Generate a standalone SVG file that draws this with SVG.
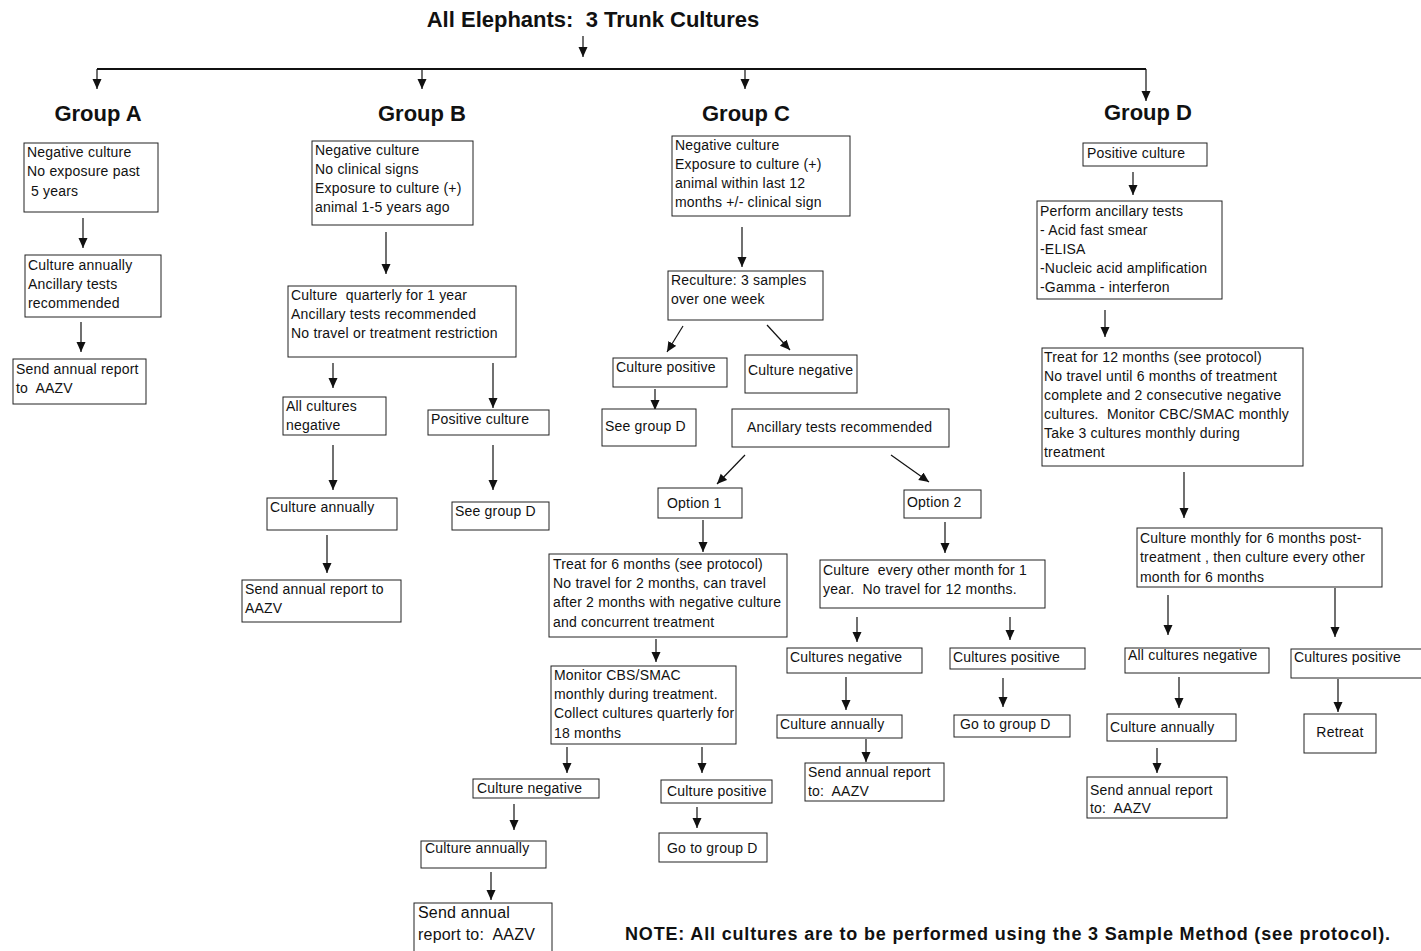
<svg xmlns="http://www.w3.org/2000/svg" width="1421" height="951" viewBox="0 0 1421 951">
<defs>
<marker id="ah" markerUnits="userSpaceOnUse" markerWidth="10" markerHeight="10" refX="10" refY="4.5" orient="auto">
<path d="M0,0 L10,4.5 L0,9 z" fill="#111"/>
</marker>
<style>
.box{fill:#fff;stroke:#222;stroke-width:1}
.t{font-family:"Liberation Sans",Arial,sans-serif;font-size:14px;letter-spacing:0.2px;fill:#111}
.h{font-family:"Liberation Sans",Arial,sans-serif;font-size:22px;font-weight:bold;fill:#111}
.n{font-family:"Liberation Sans",Arial,sans-serif;font-size:18px;font-weight:bold;fill:#111}
.c{stroke:#111;stroke-width:1.2;fill:none;marker-end:url(#ah)}
.bar{stroke:#111;stroke-width:2;fill:none}
</style>
</defs>
<rect width="1421" height="951" fill="#fff"/>

<g id="title">
<text class="h" x="593" y="27" text-anchor="middle" xml:space="preserve">All Elephants:  3 Trunk Cultures</text>
</g>
<g id="labels">
<text class="h" x="98" y="121" text-anchor="middle">Group A</text>
<text class="h" x="422" y="121" text-anchor="middle">Group B</text>
<text class="h" x="746" y="121" text-anchor="middle">Group C</text>
<text class="h" x="1148" y="120" text-anchor="middle">Group D</text>
</g>

<g id="connectors">
<line class="c" x1="583" y1="36" x2="583" y2="57"/>
<line class="bar" x1="97" y1="69" x2="1146" y2="69"/>
<line class="c" x1="97" y1="69" x2="97" y2="89"/>
<line class="c" x1="422" y1="69" x2="422" y2="89"/>
<line class="c" x1="745" y1="69" x2="745" y2="89"/>
<line class="c" x1="1146" y1="69" x2="1146" y2="101"/>
<line class="c" x1="83" y1="218" x2="83" y2="248"/>
<line class="c" x1="81" y1="322" x2="81" y2="352"/>
<line class="c" x1="386" y1="232" x2="386" y2="274"/>
<line class="c" x1="333" y1="363" x2="333" y2="388"/>
<line class="c" x1="493" y1="363" x2="493" y2="408"/>
<line class="c" x1="333" y1="445" x2="333" y2="490"/>
<line class="c" x1="493" y1="445" x2="493" y2="490"/>
<line class="c" x1="327" y1="535" x2="327" y2="573"/>
<line class="c" x1="742" y1="227" x2="742" y2="267"/>
<line class="c" x1="683" y1="326" x2="667" y2="352"/>
<line class="c" x1="767" y1="325" x2="790" y2="350"/>
<line class="c" x1="655" y1="389" x2="655" y2="410"/>
<line class="c" x1="745" y1="455" x2="717" y2="484"/>
<line class="c" x1="891" y1="455" x2="929" y2="482"/>
<line class="c" x1="703" y1="520" x2="703" y2="552"/>
<line class="c" x1="656" y1="639" x2="656" y2="662"/>
<line class="c" x1="567" y1="747" x2="567" y2="773"/>
<line class="c" x1="702" y1="747" x2="702" y2="773"/>
<line class="c" x1="514" y1="804" x2="514" y2="830"/>
<line class="c" x1="697" y1="807" x2="697" y2="828"/>
<line class="c" x1="491" y1="872" x2="491" y2="900"/>
<line class="c" x1="945" y1="522" x2="945" y2="553"/>
<line class="c" x1="857" y1="617" x2="857" y2="642"/>
<line class="c" x1="1010" y1="617" x2="1010" y2="640"/>
<line class="c" x1="846" y1="677" x2="846" y2="710"/>
<line class="c" x1="1003" y1="678" x2="1003" y2="707"/>
<line class="c" x1="866" y1="739" x2="866" y2="762"/>
<line class="c" x1="1133" y1="172" x2="1133" y2="195"/>
<line class="c" x1="1105" y1="310" x2="1105" y2="337"/>
<line class="c" x1="1184" y1="472" x2="1184" y2="518"/>
<line class="c" x1="1168" y1="595" x2="1168" y2="635"/>
<line class="c" x1="1335" y1="588" x2="1335" y2="637"/>
<line class="c" x1="1179" y1="677" x2="1179" y2="708"/>
<line class="c" x1="1338" y1="679" x2="1338" y2="712"/>
<line class="c" x1="1157" y1="748" x2="1157" y2="773"/>
</g>

<g id="a1"><rect class="box" x="24" y="143" width="134" height="69"/>
<text class="t" x="27" y="157">Negative culture</text><text class="t" x="27" y="176">No exposure past</text><text class="t" x="31" y="196">5 years</text></g>
<g id="a2"><rect class="box" x="25" y="255" width="136" height="62"/>
<text class="t" x="28" y="270">Culture annually</text><text class="t" x="28" y="289">Ancillary tests</text><text class="t" x="28" y="308">recommended</text></g>
<g id="a3"><rect class="box" x="13" y="359" width="133" height="45"/>
<text class="t" x="16" y="374">Send annual report</text><text class="t" x="16" y="393" xml:space="preserve">to  AAZV</text></g>

<g id="b1"><rect class="box" x="312" y="141" width="161" height="84"/>
<text class="t" x="315" y="155">Negative culture</text><text class="t" x="315" y="174">No clinical signs</text><text class="t" x="315" y="193">Exposure to culture (+)</text><text class="t" x="315" y="212">animal 1-5 years ago</text></g>
<g id="b2"><rect class="box" x="288" y="286" width="228" height="71"/>
<text class="t" x="291" y="300" xml:space="preserve">Culture  quarterly for 1 year</text><text class="t" x="291" y="319">Ancillary tests recommended</text><text class="t" x="291" y="338">No travel or treatment restriction</text></g>
<g id="b3"><rect class="box" x="283" y="397" width="103" height="38"/>
<text class="t" x="286" y="411">All cultures</text><text class="t" x="286" y="430">negative</text></g>
<g id="b4"><rect class="box" x="428" y="410" width="121" height="25"/>
<text class="t" x="431" y="424">Positive culture</text></g>
<g id="b5"><rect class="box" x="267" y="498" width="130" height="32"/>
<text class="t" x="270" y="512">Culture annually</text></g>
<g id="b6"><rect class="box" x="452" y="502" width="97" height="28"/>
<text class="t" x="455" y="516">See group D</text></g>
<g id="b7"><rect class="box" x="242" y="580" width="159" height="42"/>
<text class="t" x="245" y="594">Send annual report to</text><text class="t" x="245" y="613">AAZV</text></g>

<g id="c1"><rect class="box" x="672" y="136" width="178" height="80"/>
<text class="t" x="675" y="150">Negative culture</text><text class="t" x="675" y="169">Exposure to culture (+)</text><text class="t" x="675" y="188">animal within last 12</text><text class="t" x="675" y="207">months +/- clinical sign</text></g>
<g id="c2"><rect class="box" x="668" y="271" width="155" height="49"/>
<text class="t" x="671" y="285">Reculture: 3 samples</text><text class="t" x="671" y="304">over one week</text></g>
<g id="c3"><rect class="box" x="613" y="358" width="114" height="29"/>
<text class="t" x="616" y="372">Culture positive</text></g>
<g id="c4"><rect class="box" x="745" y="355" width="112" height="38"/>
<text class="t" x="748" y="375">Culture negative</text></g>
<g id="c5"><rect class="box" x="602" y="409" width="94" height="37"/>
<text class="t" x="605" y="431">See group D</text></g>
<g id="c6"><rect class="box" x="732" y="409" width="217" height="38"/>
<text class="t" x="747" y="432">Ancillary tests recommended</text></g>
<g id="c7"><rect class="box" x="658" y="488" width="84" height="30"/>
<text class="t" x="667" y="508">Option 1</text></g>
<g id="c8"><rect class="box" x="904" y="490" width="77" height="28"/>
<text class="t" x="907" y="507">Option 2</text></g>
<g id="c9"><rect class="box" x="549" y="554" width="238" height="83"/>
<text class="t" x="553" y="569">Treat for 6 months (see protocol)</text><text class="t" x="553" y="588">No travel for 2 months, can travel</text><text class="t" x="553" y="607">after 2 months with negative culture</text><text class="t" x="553" y="627">and concurrent treatment</text></g>
<g id="c10"><rect class="box" x="551" y="666" width="185" height="78"/>
<text class="t" x="554" y="680">Monitor CBS/SMAC</text><text class="t" x="554" y="699">monthly during treatment.</text><text class="t" x="554" y="718">Collect cultures quarterly for</text><text class="t" x="554" y="738">18 months</text></g>
<g id="c11"><rect class="box" x="473" y="779" width="126" height="19"/>
<text class="t" x="477" y="793">Culture negative</text></g>
<g id="c12"><rect class="box" x="661" y="780" width="111" height="23"/>
<text class="t" x="667" y="796">Culture positive</text></g>
<g id="c13"><rect class="box" x="421" y="841" width="125" height="27"/>
<text class="t" x="425" y="853">Culture annually</text></g>
<g id="c14"><rect class="box" x="659" y="833" width="108" height="29"/>
<text class="t" x="667" y="853">Go to group D</text></g>
<g id="c15"><rect class="box" x="414" y="903" width="138" height="52"/>
<text class="t" x="418" y="918" style="font-size:16px">Send annual</text><text class="t" x="418" y="940" style="font-size:16px" xml:space="preserve">report to:  AAZV</text></g>
<g id="c16"><rect class="box" x="820" y="560" width="225" height="48"/>
<text class="t" x="823" y="575" xml:space="preserve">Culture  every other month for 1</text><text class="t" x="823" y="594" xml:space="preserve">year.  No travel for 12 months.</text></g>
<g id="c17"><rect class="box" x="787" y="648" width="135" height="25"/>
<text class="t" x="790" y="662">Cultures negative</text></g>
<g id="c18"><rect class="box" x="950" y="648" width="135" height="21"/>
<text class="t" x="953" y="662">Cultures positive</text></g>
<g id="c19"><rect class="box" x="777" y="715" width="125" height="23"/>
<text class="t" x="780" y="729">Culture annually</text></g>
<g id="c20"><rect class="box" x="954" y="715" width="116" height="22"/>
<text class="t" x="960" y="729">Go to group D</text></g>
<g id="c21"><rect class="box" x="805" y="763" width="139" height="38"/>
<text class="t" x="808" y="777">Send annual report</text><text class="t" x="808" y="796" xml:space="preserve">to:  AAZV</text></g>

<g id="d1"><rect class="box" x="1083" y="143" width="124" height="23"/>
<text class="t" x="1087" y="158">Positive culture</text></g>
<g id="d2"><rect class="box" x="1037" y="201" width="185" height="98"/>
<text class="t" x="1040" y="216">Perform ancillary tests</text><text class="t" x="1040" y="235">- Acid fast smear</text><text class="t" x="1040" y="254">-ELISA</text><text class="t" x="1040" y="273">-Nucleic acid amplification</text><text class="t" x="1040" y="292">-Gamma - interferon</text></g>
<g id="d3"><rect class="box" x="1042" y="348" width="261" height="118"/>
<text class="t" x="1044" y="362">Treat for 12 months (see protocol)</text><text class="t" x="1044" y="381">No travel until 6 months of treatment</text><text class="t" x="1044" y="400">complete and 2 consecutive negative</text><text class="t" x="1044" y="419" xml:space="preserve">cultures.  Monitor CBC/SMAC monthly</text><text class="t" x="1044" y="438">Take 3 cultures monthly during</text><text class="t" x="1044" y="457">treatment</text></g>
<g id="d4"><rect class="box" x="1137" y="528" width="245" height="59"/>
<text class="t" x="1140" y="543">Culture monthly for 6 months post-</text><text class="t" x="1140" y="562">treatment , then culture every other</text><text class="t" x="1140" y="582">month for 6 months</text></g>
<g id="d5"><rect class="box" x="1125" y="648" width="144" height="25"/>
<text class="t" x="1128" y="660">All cultures negative</text></g>
<g id="d6"><rect class="box" x="1291" y="649" width="135" height="29"/>
<text class="t" x="1294" y="662">Cultures positive</text></g>
<g id="d7"><rect class="box" x="1107" y="714" width="129" height="27"/>
<text class="t" x="1110" y="732">Culture annually</text></g>
<g id="d8"><rect class="box" x="1304" y="714" width="72" height="39"/>
<text class="t" x="1340" y="737" text-anchor="middle">Retreat</text></g>
<g id="d9"><rect class="box" x="1087" y="777" width="140" height="41"/>
<text class="t" x="1090" y="795">Send annual report</text><text class="t" x="1090" y="813" xml:space="preserve">to:  AAZV</text></g>

<g id="note">
<text class="n" x="625" y="940" textLength="765" lengthAdjust="spacing">NOTE: All cultures are to be performed using the 3 Sample Method (see protocol).</text>
</g>
</svg>
